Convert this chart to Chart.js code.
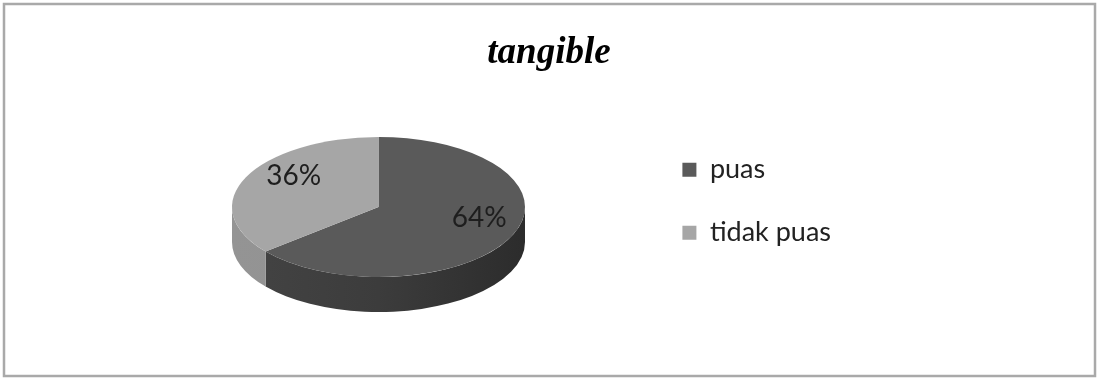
<!DOCTYPE html>
<html>
<head>
<meta charset="utf-8">
<script src="https://cdn.jsdelivr.net/npm/chart.js@4/dist/chart.umd.min.js"></script>
<style>
  html, body { margin: 0; padding: 0; background: #fff; }
  canvas { display: block; }
</style>
</head>
<body>
<canvas id="myChart" width="1098" height="378"></canvas>
<script>
// data
const categories = ['puas', 'tidak puas'];
const values = [64, 36];
const chartTitle = 'tangible';

// colours of top faces and of the visible sides
const topColors = ['#5a5a5a', '#a6a6a6'];
const sideColors = [['#444444', '#3c3c3c', '#2c2c2c'], ['#949494', '#919191', '#8a8a8a']];

// where the tilted pie sits on the page
const PIE = { cx: 378.5, cy: 207, rx: 146.5, ry: 70, depth: 35 };
const LABEL_FRAC = 0.7;

/**
 * Returns the parts of [s, e] that lie on the front half (0..PI) of the ellipse.
 */
function frontRanges(s, e) {
  let out = [];
  for (let k of [-2 * Math.PI, 0, 2 * Math.PI]) {
    let lo = Math.max(s, k), hi = Math.min(e, k + Math.PI);
    if (hi > lo) out.push([lo - k, hi - k]);
  }
  return out;
}

const pie3d = {
  id: 'pie3d',
  beforeDraw(chart) {
    // frame round the whole picture
    let ctx = chart.ctx;
    ctx.save();
    ctx.strokeStyle = '#a9a9a9';
    ctx.lineWidth = 2.5;
    ctx.strokeRect(4, 4, chart.width - 7, chart.height - 6);
    ctx.restore();
  },
  beforeDatasetsDraw(chart) {
    let ctx = chart.ctx;
    let meta = chart.getDatasetMeta(0);
    // sides first, they sit under the top face
    meta.data.forEach((arc, i) => {
      let p = arc.getProps(['startAngle', 'endAngle'], true);
      frontRanges(p.startAngle, p.endAngle).forEach(([lo, hi]) => {
        let g = ctx.createLinearGradient(PIE.cx - PIE.rx, 0, PIE.cx + PIE.rx, 0);
        g.addColorStop(0, sideColors[i][0]);
        g.addColorStop(0.5, sideColors[i][1]);
        g.addColorStop(1, sideColors[i][2]);
        ctx.beginPath();
        ctx.ellipse(PIE.cx, PIE.cy, PIE.rx, PIE.ry, 0, lo, hi);
        ctx.ellipse(PIE.cx, PIE.cy + PIE.depth, PIE.rx, PIE.ry, 0, hi, lo, true);
        ctx.closePath();
        ctx.fillStyle = g;
        ctx.fill();
      });
    });
    // squash the library's round pie into the tilted top face
    let a0 = meta.data[0];
    let r = a0.outerRadius;
    ctx.save();
    ctx.translate(PIE.cx, PIE.cy);
    ctx.scale(PIE.rx / r, PIE.ry / r);
    ctx.translate(-a0.x, -a0.y);
  },
  afterDatasetsDraw(chart) {
    let ctx = chart.ctx;
    ctx.restore();
    let meta = chart.getDatasetMeta(0);
    let total = values.reduce((a, b) => a + b, 0);
    ctx.save();
    ctx.font = '28px Lato';
    ctx.fillStyle = '#1e1e1e';
    ctx.textAlign = 'center';
    ctx.textBaseline = 'middle';
    meta.data.forEach((arc, i) => {
      let p = arc.getProps(['startAngle', 'endAngle'], true);
      let mid = (p.startAngle + p.endAngle) / 2;
      let x = PIE.cx + PIE.rx * LABEL_FRAC * Math.cos(mid) + 8;
      let y = PIE.cy + PIE.ry * LABEL_FRAC * Math.sin(mid) - 10;
      ctx.fillText(Math.round(values[i] / total * 100) + '%', x, y);
    });
    ctx.restore();
  }
};

const ctx = document.getElementById('myChart');
new Chart(ctx, {
  type: 'pie',
  data: {
    labels: categories,
    datasets: [{
      data: values,
      backgroundColor: topColors,
      borderWidth: 0
    }]
  },
  options: {
    responsive: false,
    animation: false,
    layout: { padding: { left: 257, right: 257, top: 20, bottom: 61 } },
    plugins: {
      title: {
        display: true,
        text: chartTitle,
        color: '#000',
        font: { family: 'Liberation Serif', style: 'italic', weight: 'bold', size: 37 },
        padding: { top: 11, bottom: 10 }
      },
      legend: {
        position: 'right',
        align: 'center',
        fullSize: false,
        labels: {
          color: '#222',
          font: { family: 'Lato', size: 27 },
          boxWidth: 14,
          boxHeight: 14,
          padding: 36
        }
      },
      tooltip: { enabled: false }
    }
  },
  plugins: [pie3d]
});
</script>
</body>
</html>
